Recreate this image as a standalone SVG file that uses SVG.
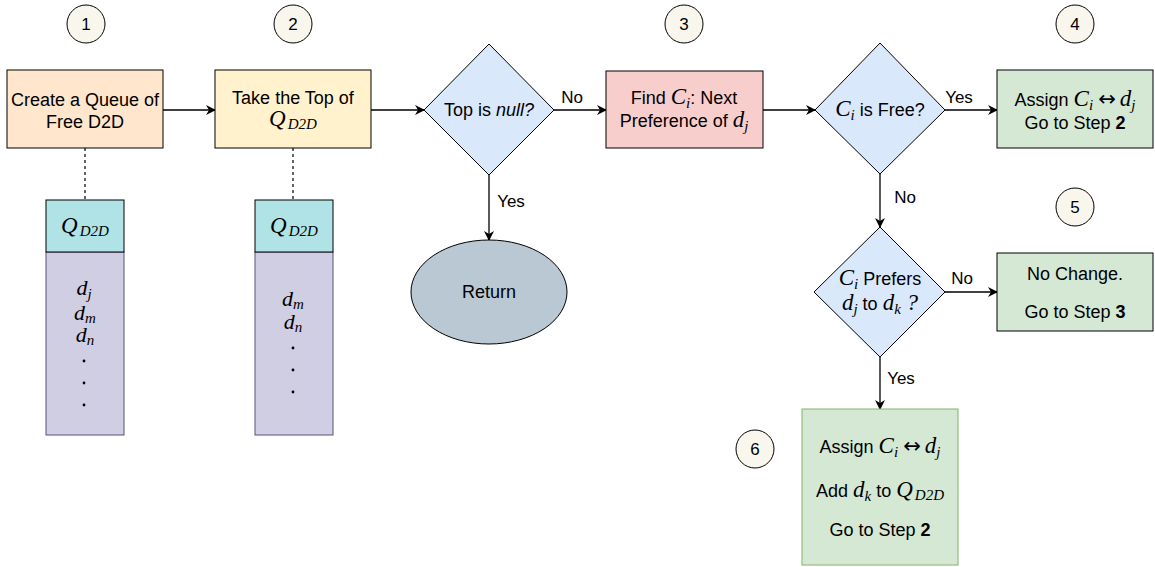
<svg xmlns="http://www.w3.org/2000/svg" width="1155" height="567" viewBox="0 0 1155 567">
  <style>
    .t { font-family: "Liberation Sans", Arial, sans-serif; font-size: 18px; fill: #000; }
    .lbl { font-family: "Liberation Sans", Arial, sans-serif; font-size: 17px; fill: #000; }
    .m { font-family: "Liberation Serif", "DejaVu Serif", serif; font-style: italic; font-size: 23px; }
    .q { font-size: 22px; }
    .s { font-size: 15px; }
    .arr { font-family: "DejaVu Sans", sans-serif; font-style: normal; font-size: 21px; }
    .num { font-family: "Liberation Sans", Arial, sans-serif; font-size: 17px; fill: #000; text-anchor: middle; }
    .step { fill: #f9f7ed; stroke: #000; stroke-width: 1; }
    .edge { fill: none; stroke: #000; stroke-width: 1.3; }
    .dash { fill: none; stroke: #000; stroke-width: 1.2; stroke-dasharray: 3 3; }
    .node { stroke: #000; stroke-width: 1; }
  </style>
  <defs>
    <marker id="arrow" viewBox="0 0 10 10" refX="9" refY="5" markerWidth="10" markerHeight="10" markerUnits="userSpaceOnUse" orient="auto">
      <path d="M0,0 L10,5 L0,10 L3,5 z" fill="#000"/>
    </marker>
  </defs>

  <rect width="1155" height="567" fill="#fff"/>

  <!-- step markers -->
  <g id="steps">
    <circle class="step" cx="86" cy="24" r="19"/><text class="num" x="86" y="30">1</text>
    <circle class="step" cx="293" cy="24" r="19"/><text class="num" x="293" y="30">2</text>
    <circle class="step" cx="684" cy="24" r="19"/><text class="num" x="684" y="30">3</text>
    <circle class="step" cx="1075" cy="24" r="19"/><text class="num" x="1075" y="30">4</text>
    <circle class="step" cx="1075" cy="207" r="19"/><text class="num" x="1075" y="213">5</text>
    <circle class="step" cx="755" cy="449" r="19"/><text class="num" x="755" y="455">6</text>
  </g>

  <!-- connectors -->
  <g id="connectors">
    <line class="dash" x1="85" y1="148" x2="85" y2="200"/>
    <line class="dash" x1="293" y1="148" x2="293" y2="200"/>
    <line class="edge" x1="163" y1="110" x2="215" y2="110" marker-end="url(#arrow)"/>
    <line class="edge" x1="371" y1="110" x2="424" y2="110" marker-end="url(#arrow)"/>
    <line class="edge" x1="554" y1="110" x2="606" y2="110" marker-end="url(#arrow)"/>
    <line class="edge" x1="489" y1="175" x2="489" y2="240" marker-end="url(#arrow)"/>
    <line class="edge" x1="763" y1="110" x2="815" y2="110" marker-end="url(#arrow)"/>
    <line class="edge" x1="945" y1="110" x2="997" y2="110" marker-end="url(#arrow)"/>
    <line class="edge" x1="880" y1="174" x2="880" y2="227" marker-end="url(#arrow)"/>
    <line class="edge" x1="945" y1="292" x2="997" y2="292" marker-end="url(#arrow)"/>
    <line class="edge" x1="880" y1="357" x2="880" y2="409" marker-end="url(#arrow)"/>
    <text class="lbl" x="572" y="103" text-anchor="middle">No</text>
    <text class="lbl" x="511" y="207" text-anchor="middle">Yes</text>
    <text class="lbl" x="959" y="103" text-anchor="middle">Yes</text>
    <text class="lbl" x="905" y="203" text-anchor="middle">No</text>
    <text class="lbl" x="962" y="284" text-anchor="middle">No</text>
    <text class="lbl" x="901" y="384" text-anchor="middle">Yes</text>
  </g>

  <g id="create-queue">
    <rect class="node" x="7" y="70" width="156" height="78" fill="#ffe6cc"/>
    <text class="t" x="85" y="106" text-anchor="middle">Create a Queue of</text>
    <text class="t" x="85" y="128" text-anchor="middle">Free D2D</text>
  </g>

  <g id="take-top">
    <rect class="node" x="215" y="70" width="156" height="78" fill="#fff2cc"/>
    <text class="t" x="293" y="104" text-anchor="middle">Take the Top of</text>
    <text x="293" y="126" text-anchor="middle"><tspan class="m">Q</tspan><tspan class="m s" dx="2" dy="3">D2D</tspan></text>
  </g>

  <g id="queue-1">
    <rect x="46" y="252" width="78" height="183" fill="#d0cee2" stroke="#56517e"/>
    <rect class="node" x="46" y="200" width="78" height="52" fill="#b0e3e6"/>
    <text x="85" y="233" text-anchor="middle"><tspan class="m">Q</tspan><tspan class="m s" dx="2" dy="3">D2D</tspan></text>
    <text text-anchor="middle"><tspan x="84" y="295" class="m q">d</tspan><tspan class="m s" dy="4">j</tspan><tspan x="85" y="320" class="m q">d</tspan><tspan class="m s" dy="3">m</tspan><tspan x="85" y="342" class="m q">d</tspan><tspan class="m s" dy="3">n</tspan></text>
    <circle cx="84" cy="361" r="1.4" fill="#000"/>
    <circle cx="84" cy="383" r="1.4" fill="#000"/>
    <circle cx="84" cy="405" r="1.4" fill="#000"/>
  </g>

  <g id="queue-2">
    <rect x="255" y="252" width="78" height="183" fill="#d0cee2" stroke="#56517e"/>
    <rect class="node" x="255" y="200" width="78" height="52" fill="#b0e3e6"/>
    <text x="294" y="233" text-anchor="middle"><tspan class="m">Q</tspan><tspan class="m s" dx="2" dy="3">D2D</tspan></text>
    <text text-anchor="middle"><tspan x="293" y="306" class="m q">d</tspan><tspan class="m s" dy="3">m</tspan><tspan x="293" y="329" class="m q">d</tspan><tspan class="m s" dy="3">n</tspan></text>
    <circle cx="293" cy="348" r="1.4" fill="#000"/>
    <circle cx="293" cy="370" r="1.4" fill="#000"/>
    <circle cx="293" cy="392" r="1.4" fill="#000"/>
  </g>

  <g id="top-null">
    <polygon class="node" points="489,44 554,110 489,175 424,110" fill="#dae8fc"/>
    <text class="t" x="489" y="116" text-anchor="middle">Top is <tspan font-style="italic">null?</tspan></text>
  </g>

  <g id="return">
    <ellipse class="node" cx="489" cy="292" rx="78" ry="52" fill="#bac8d3"/>
    <text class="t" x="489" y="298" text-anchor="middle">Return</text>
  </g>

  <g id="find-ci">
    <rect class="node" x="606" y="71" width="157" height="77" fill="#f8cecc"/>
    <text class="t" x="684" y="104" text-anchor="middle">Find <tspan class="m">C</tspan><tspan class="m s" dy="4">i</tspan><tspan dy="-4">: Next</tspan></text>
    <text class="t" x="684" y="127" text-anchor="middle">Preference of <tspan class="m">d</tspan><tspan class="m s" dy="4">j</tspan></text>
  </g>

  <g id="ci-free">
    <polygon class="node" points="880,43 945,110 880,174 815,110" fill="#dae8fc"/>
    <text class="t" x="880" y="116" text-anchor="middle"><tspan class="m">C</tspan><tspan class="m s" dy="4">i</tspan><tspan dy="-4"> is Free?</tspan></text>
  </g>

  <g id="assign-free">
    <rect class="node" x="997" y="70" width="156" height="78" fill="#d5e8d4"/>
    <text class="t" x="1075" y="106" text-anchor="middle">Assign <tspan class="m">C</tspan><tspan class="m s" dy="4">i</tspan><tspan class="arr" dx="5" dy="-4">↔</tspan><tspan class="m" dx="4">d</tspan><tspan class="m s" dy="4">j</tspan></text>
    <text class="t" x="1075" y="129" text-anchor="middle">Go to Step <tspan font-weight="bold">2</tspan></text>
  </g>

  <g id="ci-prefers">
    <polygon class="node" points="880,227 945,292 880,357 814,292" fill="#dae8fc"/>
    <text class="t" x="880" y="285" text-anchor="middle"><tspan class="m">C</tspan><tspan class="m s" dy="4">i</tspan><tspan dy="-4"> Prefers</tspan></text>
    <text class="t" x="880" y="310" text-anchor="middle"><tspan class="m">d</tspan><tspan class="m s" dy="4">j</tspan><tspan dy="-4"> to </tspan><tspan class="m">d</tspan><tspan class="m s" dy="4">k</tspan><tspan class="m" dy="-4" font-style="normal"> ?</tspan></text>
  </g>

  <g id="no-change">
    <rect class="node" x="997" y="253" width="156" height="78" fill="#d5e8d4"/>
    <text class="t" x="1075" y="280" text-anchor="middle">No Change.</text>
    <text class="t" x="1075" y="318" text-anchor="middle">Go to Step <tspan font-weight="bold">3</tspan></text>
  </g>

  <g id="assign-swap">
    <rect x="802" y="409" width="156" height="156" fill="#d5e8d4" stroke="#82b366"/>
    <text class="t" x="880" y="453" text-anchor="middle">Assign <tspan class="m">C</tspan><tspan class="m s" dy="4">i</tspan><tspan class="arr" dx="5" dy="-4">↔</tspan><tspan class="m" dx="4">d</tspan><tspan class="m s" dy="4">j</tspan></text>
    <text class="t" x="880" y="497" text-anchor="middle">Add <tspan class="m">d</tspan><tspan class="m s" dy="4">k</tspan><tspan dy="-4"> to </tspan><tspan class="m">Q</tspan><tspan class="m s" dx="2" dy="3">D2D</tspan></text>
    <text class="t" x="880" y="536" text-anchor="middle">Go to Step <tspan font-weight="bold">2</tspan></text>
  </g>
</svg>
